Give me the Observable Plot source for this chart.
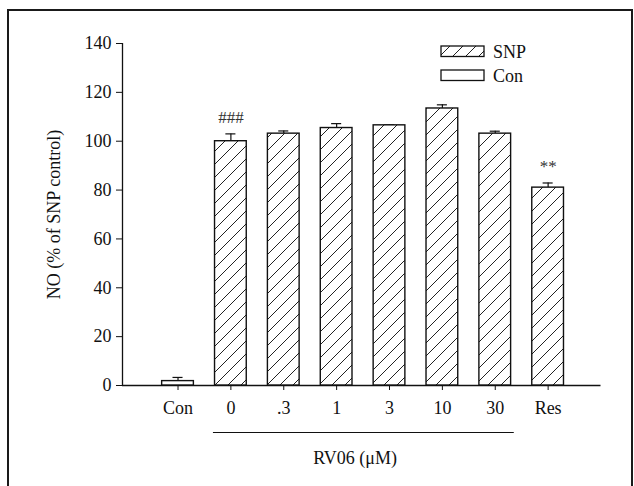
<!DOCTYPE html>
<html>
<head>
<meta charset="utf-8">
<script src="https://cdn.jsdelivr.net/npm/d3@7"></script>
<script src="https://cdn.jsdelivr.net/npm/@observablehq/plot@0.6"></script>
<style>
  html, body { margin: 0; padding: 0; background: #fff; }
  body { width: 634px; height: 486px; position: relative; overflow: hidden; font-family: "Liberation Serif", serif; }
  #frame { position: absolute; left: 7px; top: 9px; width: 622px; height: 490px; border: 2px solid #1a1a1a; border-bottom: none; }
  #chart { position: absolute; left: 0; top: 0; }
</style>
</head>
<body>
<div id="frame"></div>
<div id="chart"></div>
<script>
// ---- data ----
const categories = ["Con", "0", ".3", "1", "3", "10", "30", "Res"];
const values     = [1.8, 100, 103.1, 105.4, 106.5, 113.4, 103.1, 81.0];
const errors     = [1.5, 3.0, 1.1, 1.8, 0.2, 1.5, 1.0, 1.9];
const groups     = ["Con", "SNP", "SNP", "SNP", "SNP", "SNP", "SNP", "SNP"];
const annotations = ["", "###", "", "", "", "", "", "**"];
const yTicks = [0, 20, 40, 60, 80, 100, 120, 140];
const yLabel = "NO (% of SNP control)";
const bracketLabel = "RV06 (\u03bcM)";
const bracketFrom = "0", bracketTo = "30";
const legendLabels = ["SNP", "Con"];

const data = categories.map((c, i) => ({
  cat: c, pos: i + 1, value: values[i], se: errors[i], group: groups[i], note: annotations[i]
}));
const notes = data.filter(d => d.note);
const bFrom = categories.indexOf(bracketFrom) + 1;
const bTo = categories.indexOf(bracketTo) + 1;

const FONT = "Liberation Serif";
const hatch = "url(#hatch)";

const plot = Plot.plot({
  width: 634,
  height: 486,
  marginLeft: 122,
  marginRight: 33.5,
  marginTop: 43,
  marginBottom: 101,
  style: { fontFamily: FONT, fontSize: "18px", color: "#111", background: "transparent", overflow: "visible" },
  x: { domain: [-0.05, 9], axis: null, label: null },
  y: { domain: [0, 140], axis: null, label: null },
  marks: [
    // axes lines
    Plot.ruleY([0], { stroke: "#111", strokeWidth: 1.3 }),
    Plot.ruleX([-0.05], { y1: 0, y2: 140, stroke: "#111", strokeWidth: 1.3 }),
    Plot.axisY({ ticks: yTicks, tickSize: 6, tickPadding: 5, fontSize: 18, stroke: "#111", tickFormat: d => d, label: null }),
    Plot.axisX({ ticks: data.map(d => d.pos), tickFormat: p => categories[p - 1], tickSize: 5, tickPadding: 11, fontSize: 18, stroke: "#111", label: null }),
    // error bars
    Plot.ruleX(data, { x: "pos", y1: "value", y2: d => d.value + d.se, stroke: "#111", strokeWidth: 1.2 }),
    Plot.ruleY(data, { y: d => d.value + d.se, x1: d => d.pos - 0.095, x2: d => d.pos + 0.095, stroke: "#111", strokeWidth: 1.2 }),
    // bars (white base)
    Plot.rectY(data, { x1: d => d.pos - 0.3, x2: d => d.pos + 0.3, y: "value", fill: "white" }),
    // hatched overlay for SNP
    Plot.rectY(data.filter(d => d.group === "SNP"), { x1: d => d.pos - 0.3, x2: d => d.pos + 0.3, y: "value", fill: hatch }),
    Plot.rectY(data, { x1: d => d.pos - 0.3, x2: d => d.pos + 0.3, y: "value", fill: "none", stroke: "#111", strokeWidth: 1.4 }),
    // significance marks
    Plot.text(notes, { x: "pos", y: d => d.value + d.se, text: "note", dy: -16, fontSize: 17, fill: "#333" }),
    // bracket under x labels
    Plot.ruleY([0], { x1: bFrom - 0.33, x2: bTo + 0.36, dy: 47, stroke: "#111", strokeWidth: 1.2 }),
    Plot.text([bracketLabel], { x: (bFrom + bTo) / 2, y: 0, dy: 73, dx: -8, fontSize: 18, fill: "#111" }),
    // y axis label
    Plot.text([yLabel], { x: -0.05, y: 70, dx: -68, rotate: -90, fontSize: 18, fill: "#111" })
  ]
});

document.getElementById("chart").appendChild(plot);

// pattern definition + legend
const svg = d3.select(plot);
const defs = svg.insert("defs", ":first-child");
const pat = defs.append("pattern")
  .attr("id", "hatch").attr("patternUnits", "userSpaceOnUse")
  .attr("width", 13).attr("height", 13).attr("x", 2).attr("y", 0);
pat.append("line").attr("x1", -1).attr("y1", 14).attr("x2", 14).attr("y2", -1)
  .attr("stroke", "#222").attr("stroke-width", 1);

const legend = svg.append("g").attr("font-family", FONT).attr("font-size", 18)
  .attr("fill", "#111").attr("text-anchor", "start");
legendLabels.forEach((lab, i) => {
  const y0 = 46 + i * 24;
  legend.append("rect").attr("x", 441).attr("y", y0).attr("width", 43).attr("height", 10.5)
    .attr("fill", "white").attr("stroke", "none");
  if (i === 0) legend.append("rect").attr("x", 441).attr("y", y0).attr("width", 43).attr("height", 10.5)
    .attr("fill", hatch);
  legend.append("rect").attr("x", 441).attr("y", y0).attr("width", 43).attr("height", 10.5)
    .attr("fill", "none").attr("stroke", "#111").attr("stroke-width", 1.3);
  legend.append("text").attr("x", 493).attr("y", y0 + 5.5).attr("dy", "0.35em")
    .attr("text-anchor", "start").text(lab);
});
</script>
</body>
</html>
